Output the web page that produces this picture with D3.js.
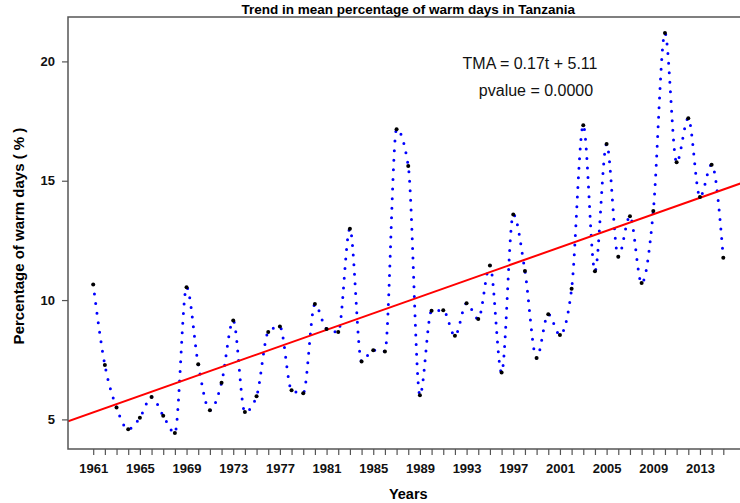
<!DOCTYPE html>
<html>
<head>
<meta charset="utf-8">
<script src="https://cdn.jsdelivr.net/npm/d3@7"></script>
<style>
  body { margin: 0; background: #fff; }
  text { font-family: "Liberation Sans", Arial, Helvetica, sans-serif; }
</style>
</head>
<body>
<svg id="chart" width="740" height="503"></svg>
<script>
const years = d3.range(1961, 2016);
const warmDays = [
  10.65, 7.28, 5.50, 4.59, 5.07, 5.94, 5.15, 4.43, 10.54, 7.31,
  5.38, 6.54, 9.14, 5.31, 5.97, 8.66, 8.89, 6.22, 6.10, 9.83,
  8.79, 8.66, 12.99, 7.43, 7.90, 7.85, 17.16, 15.62, 6.01, 9.55,
  9.57, 8.50, 9.87, 9.21, 11.45, 6.96, 13.59, 11.22, 7.57, 9.41,
  8.54, 10.47, 17.32, 11.21, 16.54, 11.81, 13.51, 10.71, 13.73, 21.19,
  15.77, 17.62, 14.32, 15.67, 11.77
];
const yTicks = [5, 10, 15, 20];
const xLabelYears = d3.range(1961, 2014, 4);
const equationText = "TMA = 0.17t + 5.11";
const pvalueText = "pvalue = 0.0000";

const data = years.map((y, i) => ({ year: y, value: warmDays[i] }));

// plot region (R style 4% padding on the data range)
const plotL = 68, plotR = 748.5, plotT = 17, plotB = 449;
const xPad = (2015 - 1961) * 0.04;
const yExt = d3.extent(warmDays);
const yPad = (yExt[1] - yExt[0]) * 0.04;

const svg = d3.select("#chart");

const xScale = d3.scaleLinear()
                .domain([1961 - xPad, 2015 + xPad])
                .range([plotL, plotR]);

const yScale = d3.scaleLinear()
                .domain([yExt[0] - yPad, yExt[1] + yPad])
                .range([plotB, plotT]);

svg.append("defs").append("clipPath")
   .attr("id", "plotclip")
   .append("rect")
   .attr("x", plotL).attr("y", plotT)
   .attr("width", plotR - plotL).attr("height", plotB - plotT);

// linear trend, t = 1 for 1961
const tVals = years.map(y => y - 1960);
const tMean = d3.mean(tVals), vMean = d3.mean(warmDays);
const slope = d3.sum(tVals, (t, i) => (t - tMean) * (warmDays[i] - vMean)) /
              d3.sum(tVals, t => (t - tMean) * (t - tMean));
const intercept = vMean - slope * tMean;
const xDom = xScale.domain();

// smooth curve, dotted
const line = d3.line()
               .x(d => xScale(d.year))
               .y(d => yScale(d.value))
               .curve(d3.curveMonotoneX);

svg.append("path")
   .datum(data)
   .attr("d", line)
   .attr("fill", "none")
   .attr("stroke", "#0000ff")
   .attr("stroke-width", 3)
   .attr("stroke-linecap", "round")
   .attr("stroke-dasharray", "0 9.6");

svg.append("line")
   .attr("clip-path", "url(#plotclip)")
   .attr("x1", xScale(xDom[0]))
   .attr("y1", yScale(intercept + slope * (xDom[0] - 1960)))
   .attr("x2", xScale(xDom[1]))
   .attr("y2", yScale(intercept + slope * (xDom[1] - 1960)))
   .attr("stroke", "#ff0000")
   .attr("stroke-width", 2);

svg.selectAll("circle.pt")
   .data(data)
   .enter().append("circle")
   .attr("class", "pt")
   .attr("cx", d => xScale(d.year))
   .attr("cy", d => yScale(d.value))
   .attr("r", 2)
   .attr("fill", "#000");

// box
svg.append("rect")
   .attr("x", plotL).attr("y", plotT)
   .attr("width", plotR - plotL).attr("height", plotB - plotT)
   .attr("fill", "none")
   .attr("stroke", "#555")
   .attr("stroke-width", 1.5);

// axes
const xAxis = d3.axisBottom(xScale)
                .tickValues(years)
                .tickSize(6)
                .tickPadding(9)
                .tickFormat(d => xLabelYears.includes(d) ? String(d) : "");

const gx = svg.append("g")
   .attr("transform", `translate(0,${plotB})`)
   .call(xAxis);
gx.select(".domain").remove();

const yAxis = d3.axisLeft(yScale)
                .tickValues(yTicks)
                .tickSize(6)
                .tickPadding(7);

const gy = svg.append("g")
   .attr("transform", `translate(${plotL},0)`)
   .call(yAxis);
gy.select(".domain").remove();

svg.selectAll(".tick line").attr("stroke", "#555").attr("stroke-width", 1.2);
svg.selectAll(".tick text")
   .attr("font-family", "Liberation Sans, Arial, sans-serif")
   .attr("font-size", 13)
   .attr("font-weight", "bold")
   .attr("fill", "#111");

// titles
svg.append("text")
   .attr("x", (plotL + plotR) / 2)
   .attr("y", 14)
   .attr("text-anchor", "middle")
   .attr("font-size", 13.5)
   .attr("font-weight", "bold")
   .text("Trend in mean percentage of warm days in Tanzania");

svg.append("text")
   .attr("x", (plotL + plotR) / 2)
   .attr("y", 499)
   .attr("text-anchor", "middle")
   .attr("font-size", 14.5)
   .attr("font-weight", "bold")
   .text("Years");

svg.append("text")
   .attr("transform", `translate(24,${(plotT + plotB) / 2 + 3}) rotate(-90)`)
   .attr("text-anchor", "middle")
   .attr("font-size", 15)
   .attr("font-weight", "bold")
   .text("Percentage of warm days ( % )");

svg.append("text")
   .attr("x", 530)
   .attr("y", 69)
   .attr("text-anchor", "middle")
   .attr("font-size", 16)
   .attr("fill", "#111")
   .text(equationText);

svg.append("text")
   .attr("x", 536)
   .attr("y", 96)
   .attr("text-anchor", "middle")
   .attr("font-size", 16)
   .attr("fill", "#111")
   .text(pvalueText);
</script>
</body>
</html>
